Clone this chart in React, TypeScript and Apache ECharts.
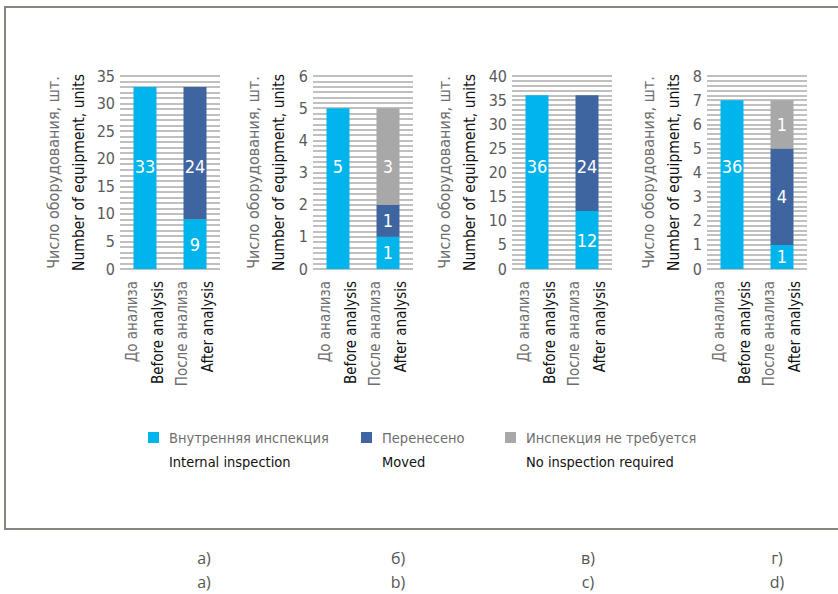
import React, { useEffect, useRef } from "react";
import * as echarts from "echarts";

const catRu = ["До анализа", "После анализа"];
const catEn = ["Before analysis", "After analysis"];
const seriesRu = ["Внутренняя инспекция", "Перенесено", "Инспекция не требуется"];
const seriesEn = ["Internal inspection", "Moved", "No inspection required"];
const axisTitleRu = "Число оборудования, шт.";
const axisTitleEn = "Number of equipment, units";
const panelRu = ["а)", "б)", "в)", "г)"];
const panelEn = ["a)", "b)", "c)", "d)"];

const yMax = [35, 6, 40, 8];
const yStep = [5, 1, 5, 1];

const internalValues = [[33, 9], [5, 1], [36, 12], [7, 1]];
const movedValues = [[0, 24], [0, 1], [0, 24], [0, 4]];
const notRequiredValues = [[0, 0], [0, 3], [0, 0], [0, 2]];

const internalLabels = [["33", "9"], ["5", "1"], ["36", "12"], ["36", "1"]];
const movedLabels = [["", "24"], ["", "1"], ["", "24"], ["", "4"]];
const notRequiredLabels = [["", ""], ["", "3"], ["", ""], ["", "1"]];

// layout
const gridLeft = [120, 313, 512, 707];
const gridTop = 76;
const gridW = 100;
const gridH = 193;
const minorSplit = [5, 6, 5, 5];
const nameGaps = [29, 22, 30, 21];
const pinTopAfter = [true, true, true, false];
const pinY = 166;
const panelX = [204, 398, 588, 777];
const legendX = [143, 356, 500];

const colors = ["#00b4ec", "#3e65a0", "#a8a8a8"];
const NARROW = "'Liberation Sans Narrow', 'DejaVu Sans Condensed', sans-serif";

export default function App() {
  const ref = useRef<HTMLDivElement>(null);
  useEffect(() => {
    document.body.style.margin = "0";
    const chart = echarts.init(ref.current!, undefined, { renderer: "svg" });
    const allValues = [internalValues, movedValues, notRequiredValues];
    const allLabels = [internalLabels, movedLabels, notRequiredLabels];

    const grids: any[] = [];
    const xAxes: any[] = [];
    const yAxes: any[] = [];
    const series: any[] = [];
    const gridLine = { color: "#ababab", width: 1.5 };

    for (let i = 0; i < 4; i++) {
      grids.push({ left: gridLeft[i], top: gridTop, width: gridW, height: gridH });
      xAxes.push({
        type: "category",
        gridIndex: i,
        data: catRu,
        axisLine: { show: false },
        axisTick: { show: false },
        axisLabel: {
          rotate: 90,
          margin: 12,
          formatter: (v: string, idx: number) => `{a|${v}}\n{b|${catEn[idx]}}`,
          rich: {
            a: { color: "#6e6e6e", fontSize: 15, lineHeight: 26, fontFamily: NARROW },
            b: { color: "#111111", fontSize: 15, lineHeight: 26, fontFamily: NARROW },
          },
        },
      });
      yAxes.push({
        type: "value",
        gridIndex: i,
        min: 0,
        max: yMax[i],
        interval: yStep[i],
        axisLine: { show: false },
        axisTick: { show: false },
        axisLabel: { color: "#5a5a5a", fontSize: 16, margin: 5, fontFamily: NARROW },
        splitLine: { show: true, lineStyle: gridLine },
        minorTick: { show: false, splitNumber: minorSplit[i] },
        minorSplitLine: { show: true, lineStyle: gridLine },
        name: `{a|${axisTitleRu}}\n{b|${axisTitleEn}}`,
        nameLocation: "middle",
        nameRotate: 90,
        nameGap: nameGaps[i],
        nameTextStyle: {
          rich: {
            a: { color: "#6e6e6e", fontSize: 16, lineHeight: 25, fontFamily: NARROW },
            b: { color: "#111111", fontSize: 15.5, lineHeight: 25, fontFamily: NARROW },
          },
        },
      });

      const ppu = gridH / yMax[i];
      for (let s = 0; s < 3; s++) {
        const data = [0, 1].map((c) => {
          const v = allValues[s][i][c];
          let start = 0;
          for (let k = 0; k < s; k++) start += allValues[k][i][c];
          let top = -1;
          for (let k = 0; k < 3; k++) if (allValues[k][i][c] > 0) top = k;
          const pinned = (c === 0 && s === 0) || (c === 1 && s === top && pinTopAfter[i]);
          const center = gridTop + gridH - (start + v / 2) * ppu;
          const dy = pinned ? pinY - center : 0;
          return { value: v, label: { offset: [0, dy] } };
        });
        series.push({
          type: "bar",
          name: seriesRu[s],
          xAxisIndex: i,
          yAxisIndex: i,
          stack: "st" + i,
          barWidth: 23,
          itemStyle: { color: colors[s] },
          label: {
            show: true,
            position: "inside",
            color: "#ffffff",
            fontSize: 18,
            fontFamily: NARROW,
            formatter: (p: any) => allLabels[s][i][p.dataIndex],
          },
          data,
        });
      }
    }

    const legends = seriesRu.map((name, idx) => ({
      show: true,
      data: [name],
      left: legendX[idx],
      top: 401,
      icon: "rect",
      itemWidth: 11,
      itemHeight: 11,
      selectedMode: false,
      formatter: (n: string) => `{s| }\n{a|${n}}\n{b|${seriesEn[idx]}}`,
      textStyle: {
        rich: {
          s: { fontSize: 14.5, lineHeight: 24, padding: [0, 0, 0, 5] },
          a: { color: "#6e6e6e", fontSize: 14.5, lineHeight: 24, fontFamily: NARROW, padding: [0, 0, 0, 5] },
          b: { color: "#111111", fontSize: 14.5, lineHeight: 24, fontFamily: NARROW, padding: [0, 0, 0, 5] },
        },
      },
    }));

    const graphic: any[] = [
      {
        type: "rect",
        silent: true,
        shape: { x: 5, y: 7, width: 900, height: 522 },
        style: { fill: "none", stroke: "#86867f", lineWidth: 2 },
      },
    ];
    panelRu.forEach((t, i) => {
      graphic.push({
        type: "text",
        silent: true,
        x: panelX[i],
        y: 558,
        style: { text: t, fill: "#555555", font: "16px 'Open Sans', sans-serif", textAlign: "center", textVerticalAlign: "middle" },
      });
      graphic.push({
        type: "text",
        silent: true,
        x: panelX[i],
        y: 582,
        style: { text: panelEn[i], fill: "#555555", font: "16px 'Open Sans', sans-serif", textAlign: "center", textVerticalAlign: "middle" },
      });
    });

    chart.setOption({
      animation: false,
      backgroundColor: "#ffffff",
      grid: grids,
      xAxis: xAxes,
      yAxis: yAxes,
      series,
      legend: legends,
      graphic,
    });
    return () => chart.dispose();
  }, []);
  return <div ref={ref} style={{ width: 838, height: 594 }} />;
}
